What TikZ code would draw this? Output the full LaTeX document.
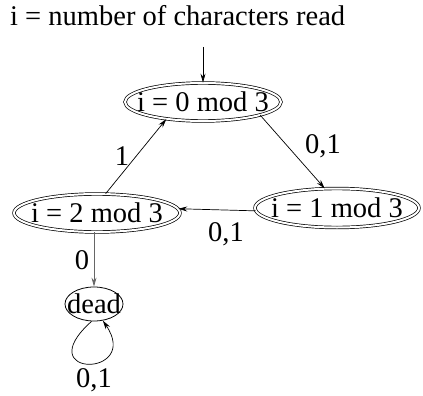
\documentclass[tikz,border=0pt]{standalone}
\usepackage{fontspec}
\setmainfont{Liberation Serif}
\usetikzlibrary{shapes.geometric,arrows.meta}
\newcommand{\zw}[1]{\makebox[0pt]{#1}}
\begin{document}
\begin{tikzpicture}[x=1pt,y=1pt,
  every node/.style={font=\fontsize{28.5}{34}\selectfont},
  state/.style={ellipse,draw,double,double distance=2pt,line width=0.7pt,inner sep=0pt},
  plain/.style={ellipse,draw,line width=0.8pt,inner sep=0pt},
  edge/.style={line width=0.7pt,-{Stealth[length=9pt,width=5pt,inset=3pt]}},
  lbl/.style={inner sep=0pt}]
\useasboundingbox (0,0) rectangle (423,-396);
\node[lbl,anchor=base west] (title) at (10,-26) {i = number of characters read};
\node[state,minimum width=156pt,minimum height=38pt] (q0) at (203,-102) {\zw{i = 0 mod 3}};
\node[state,minimum width=166pt,minimum height=38pt] (q2) at (97,-213) {\zw{i = 2 mod 3}};
\node[state,minimum width=164pt,minimum height=39pt] (q1) at (337,-208) {\zw{i = 1 mod 3}};
\node[plain,minimum width=58pt,minimum height=34pt] (dead) at (94,-304) {\zw{dead}};
\coordinate (start) at (q0.north |- 0,-47);
\draw[edge] (start) -- (q0.north);
\draw[edge] (q0.-13) -- (q1.122);
\draw[edge] (q1.182) -- (q2.3);
\draw[edge] (q2.66) -- (q0.205);
\draw[edge,draw=black!60] (dead.north |- q2.south) -- (dead.north);
\draw[edge] (dead.262) .. controls (28,-378) and (142,-378) .. (dead.-62);
\node[lbl] (l01) at (323,-146) {0,1};
\node[lbl] (l12) at (226,-234) {0,1};
\node[lbl] (l20) at (122,-156) {1};
\node[lbl] (ld) at (82,-260) {0};
\node[lbl] (lloop) at (94,-380) {0,1};
\end{tikzpicture}
\end{document}
